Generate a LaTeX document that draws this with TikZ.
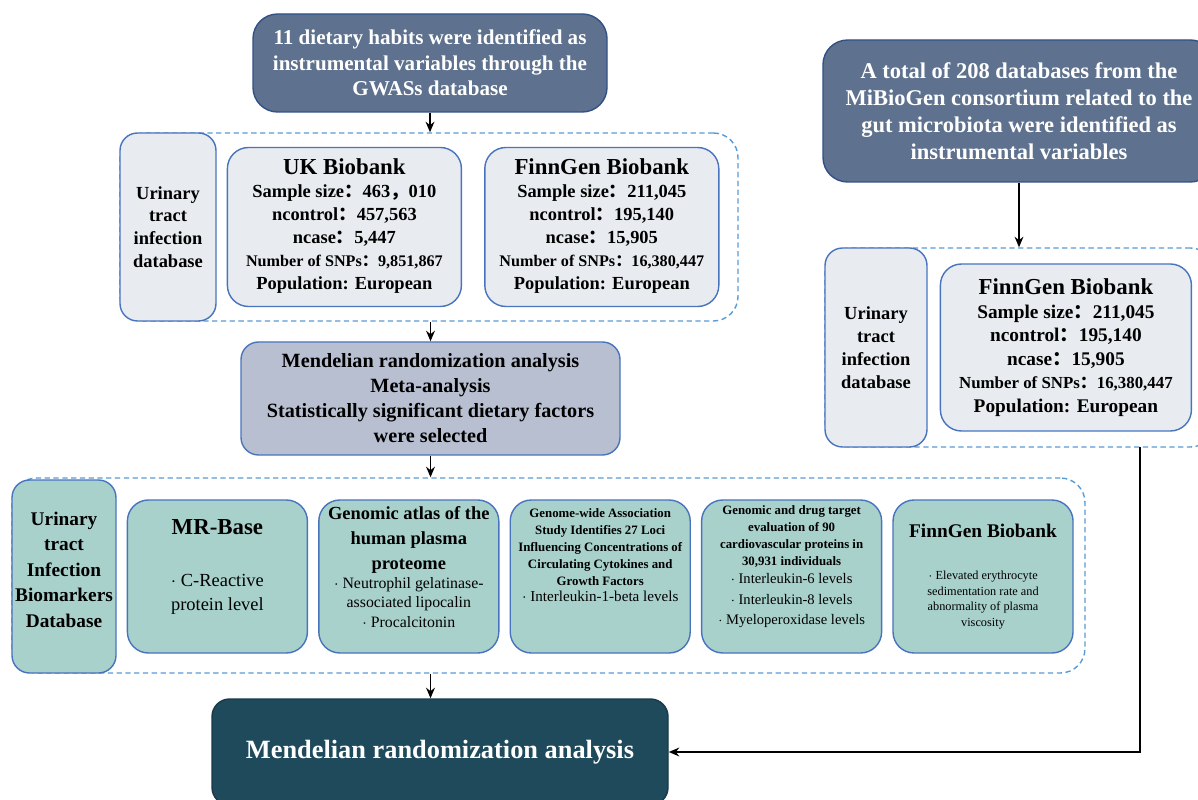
\documentclass[tikz,border=0pt]{standalone}
\usepackage{fontspec}
\setmainfont{Liberation Serif}
\newfontfamily\cjk{Noto Sans CJK SC}
\usepackage{tikz}
\usetikzlibrary{arrows.meta, positioning}
\definecolor{slate}{RGB}{94,113,142}
\definecolor{edgeblue}{RGB}{72,116,190}
\definecolor{palegray}{RGB}{232,236,240}
\definecolor{lavender}{RGB}{184,191,208}
\definecolor{seafoam}{RGB}{169,209,204}
\definecolor{deepteal}{RGB}{30,74,92}
\definecolor{dashblue}{RGB}{91,155,213}
\newcommand{\fwc}{{\cjk ：}}
\newcommand{\fwk}{{\cjk ，}}
\tikzset{
  source/.style={
    rectangle, rounded corners=14pt,
    draw=edgeblue!70!black, thick,
    fill=slate, text=white,
    align=center, inner sep=2pt,
    font=\bfseries\fontsize{12}{14.5}\selectfont
  },
  greybox/.style={
    rectangle, rounded corners=10pt,
    draw=edgeblue, thick,
    fill=palegray, align=center, inner sep=1pt,
    font=\bfseries\fontsize{10.5}{13}\selectfont
  },
  cohort/.style={
    rectangle, rounded corners=12pt,
    draw=edgeblue, thick,
    fill=palegray, align=center, inner sep=2pt,
    minimum width=4.68cm, minimum height=3.18cm,
    font=\bfseries\fontsize{10.5}{13}\selectfont
  },
  summary/.style={
    rectangle, rounded corners=10pt,
    draw=edgeblue, thick,
    fill=lavender, align=center, inner sep=2pt,
    font=\bfseries\fontsize{11.5}{14.2}\selectfont
  },
  tealbox/.style={
    rectangle, rounded corners=10pt,
    draw=edgeblue, thick,
    fill=seafoam, align=center, inner sep=0pt,
    font=\bfseries\fontsize{11}{14.5}\selectfont
  },
  marker/.style={
    rectangle, rounded corners=12pt,
    draw=edgeblue, thick,
    fill=seafoam, align=center, inner sep=2pt,
    minimum width=3.6cm, minimum height=3.06cm
  },
  result/.style={
    rectangle, rounded corners=10pt,
    draw=deepteal!80!black, thick,
    fill=deepteal, text=white, align=center,
    font=\bfseries\fontsize{15}{18}\selectfont
  },
  dashframe/.style={
    rectangle, rounded corners=14pt,
    draw=dashblue, line width=0.8pt,
    dash pattern=on 3pt off 2pt
  },
  arr/.style={-{Stealth[length=6pt, width=5pt]}, line width=1.1pt}
}

\begin{document}
\begin{tikzpicture}[x=1cm, y=1cm]

  \fill[white] (0,0) rectangle (23.96,-16);
  \useasboundingbox (0,0) rectangle (23.96,-16);

  % ---- Dashed frames ----
  \node[dashframe, minimum width=12.36cm, minimum height=3.76cm] (dbox1) at (8.58,-4.54) {};
  \node[dashframe, minimum width=21.46cm, minimum height=3.9cm]  (dbox2) at (10.97,-11.51) {};
  \node[dashframe, minimum width=7.8cm,   minimum height=3.98cm] (dbox3) at (20.4,-6.95) {};

  % ---- Left column ----
  \node[source, minimum width=7.08cm, minimum height=1.96cm] (diet) at (8.6,-1.26)
    {11 dietary habits were identified as\\instrumental variables through the\\GWASs database};

  \node[greybox, minimum width=1.92cm, minimum height=3.76cm] (uti1) at (3.36,-4.54)
    {Urinary\\tract\\infection\\database};
  \node[cohort, right=0.2cm of uti1, text depth=0.12cm] (uk)
    {{\fontsize{13}{15}\selectfont UK Biobank}\\
     Sample size\fwc 463\fwk 010\\
     ncontrol\fwc 457,563\\
     ncase\fwc 5,447\\
     {\fontsize{9.2}{13}\selectfont Number of SNPs\fwc 9,851,867}\\
     Population: European};
  \node[cohort, right=0.44cm of uk, text depth=0.12cm] (finn1)
    {{\fontsize{13}{15}\selectfont FinnGen Biobank}\\
     Sample size\fwc 211,045\\
     ncontrol\fwc 195,140\\
     ncase\fwc 15,905\\
     {\fontsize{9.2}{13}\selectfont Number of SNPs\fwc 16,380,447}\\
     Population: European};

  \node[summary, minimum width=7.58cm, minimum height=2.26cm] (mr) at (8.61,-7.97)
    {Mendelian randomization analysis\\Meta-analysis\\Statistically significant dietary factors\\were selected};

  % Biomarker sources (one row)
  \node[tealbox, minimum width=2.08cm, minimum height=3.86cm, text depth=0.28cm] (bio) at (1.28,-11.53)
    {Urinary\\tract\\Infection\\Biomarkers\\Database};
  \node[marker, right=0.2cm of bio, text depth=0.46cm,
        font=\fontsize{10.5}{13.6}\selectfont] (mrbase)
    {{\bfseries\fontsize{13}{16}\selectfont MR-Base}\\[16pt]
     $\cdot$ C-Reactive\\
     protein level};
  \node[marker, right=0.2cm of mrbase, text depth=0.38cm,
        font=\fontsize{9}{11}\selectfont] (atlas)
    {{\bfseries\fontsize{10.5}{14}\selectfont Genomic atlas of the}\\[3pt]
     {\bfseries\fontsize{10.5}{14}\selectfont human plasma}\\[3pt]
     {\bfseries\fontsize{10.5}{14}\selectfont proteome}\\
     $\cdot$ Neutrophil gelatinase-\\
     associated lipocalin\\
     $\cdot$ Procalcitonin};
  \node[marker, right=0.2cm of atlas, text depth=0.85cm,
        font=\fontsize{7.3}{9.6}\selectfont] (gwas)
    {{\bfseries Genome-wide Association}\\
     {\bfseries Study Identifies 27 Loci}\\
     {\bfseries Influencing Concentrations of}\\
     {\bfseries Circulating Cytokines and}\\
     {\bfseries Growth Factors}\\
     {\fontsize{8.6}{10}\selectfont $\cdot$ Interleukin-1-beta levels}};
  \node[marker, right=0.2cm of gwas, text depth=0.46cm,
        font=\fontsize{7.3}{9.6}\selectfont] (cardio)
    {{\bfseries Genomic and drug target}\\
     {\bfseries evaluation of 90}\\
     {\bfseries cardiovascular proteins in}\\
     {\bfseries 30,931 individuals}\\[1pt]
     {\fontsize{8.3}{11}\selectfont $\cdot$ Interleukin-6 levels}\\[2pt]
     {\fontsize{8.3}{11}\selectfont $\cdot$ Interleukin-8 levels}\\[2pt]
     {\fontsize{8.3}{11}\selectfont $\cdot$ Myeloperoxidase levels}};
  \node[marker, right=0.2cm of cardio, font=\fontsize{7}{9}\selectfont] (finnbio)
    {{\bfseries\fontsize{11}{14}\selectfont FinnGen Biobank}\\[15pt]
     $\cdot$ Elevated erythrocyte\\
     sedimentation rate and\\
     abnormality of plasma\\
     viscosity};

  \node[result, minimum width=9.12cm, minimum height=2.12cm] (final) at (8.8,-15.04)
    {Mendelian randomization analysis};

  % ---- Right column ----
  \node[source, minimum width=7.84cm, minimum height=2.84cm,
        font=\bfseries\fontsize{12.8}{15.3}\selectfont] (micro) at (20.38,-2.22)
    {A total of 208 databases from the\\MiBioGen consortium related to the\\gut microbiota were identified as\\instrumental variables};

  \node[greybox, minimum width=2.04cm, minimum height=3.98cm] (uti2) at (17.52,-6.95)
    {Urinary\\tract\\infection\\database};
  \node[cohort, minimum width=5.02cm, minimum height=3.34cm, right=0.24cm of uti2,
        font=\bfseries\fontsize{11}{13.4}\selectfont] (finn2)
    {{\fontsize{13}{15.5}\selectfont FinnGen Biobank}\\
     Sample size\fwc 211,045\\
     ncontrol\fwc 195,140\\
     ncase\fwc 15,905\\
     {\fontsize{9.6}{13.4}\selectfont Number of SNPs\fwc 16,380,447}\\
     Population: European};

  \coordinate (drop) at (22.8,-8.94);

  % ---- Arrows ----
  \draw[arr] (diet.south) -- (diet.south |- dbox1.north);
  \draw[arr] (mr.north |- dbox1.south) -- (mr.north);
  \draw[arr] (mr.south) -- (mr.south |- dbox2.north);
  \draw[arr] (mr.south |- dbox2.south) -- (mr.south |- final.north);
  \draw[arr] (micro.south) -- (micro.south |- dbox3.north);
  \draw[arr] (drop) |- (final.east);

\end{tikzpicture}
\end{document}
